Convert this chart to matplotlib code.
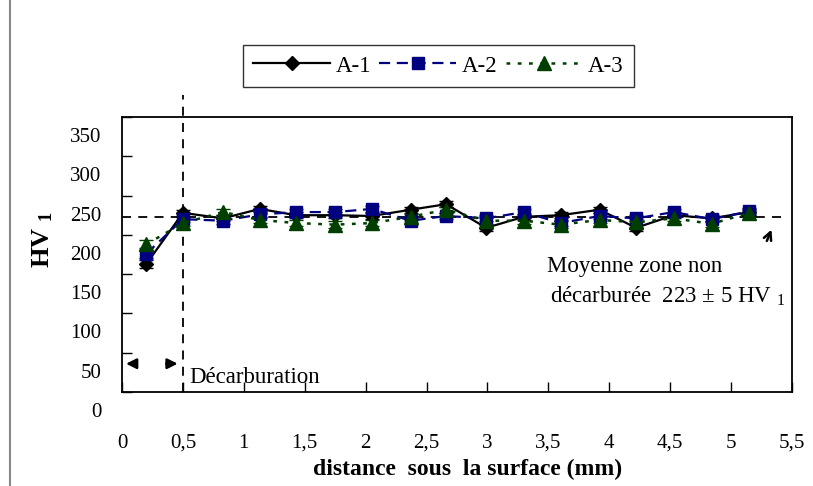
import matplotlib
matplotlib.use("Agg")
import matplotlib.pyplot as plt
from matplotlib.transforms import ScaledTranslation
from matplotlib.lines import Line2D

plt.rcParams['font.family'] = ['Liberation Serif', 'DejaVu Serif']
plt.rcParams['mathtext.fontset'] = 'custom'
plt.rcParams['mathtext.rm'] = 'Liberation Serif'
plt.rcParams['mathtext.bf'] = 'Liberation Serif:bold'

# data
distance = [0.2, 0.5, 0.83, 1.13, 1.43, 1.75, 2.05, 2.37, 2.66, 2.99, 3.30, 3.6, 3.92, 4.22, 4.53, 4.84, 5.15]
a1 = [163, 228, 221, 233, 225, 225, 224, 232, 239, 209, 223, 225, 232, 209, 225, 221, 229]
a2 = [176, 220, 218, 226, 229, 229, 233, 218, 224, 221, 229, 215, 224, 221, 229, 220, 230]
a3 = [188, 215, 229, 219, 215, 213, 215, 223, 232, 218, 218, 213, 219, 216, 221, 214, 228]
err = [5, 4, 4, 4, 4, 4, 4, 4, 4, 4, 4, 4, 4, 4, 4, 4, 4]
mean_value = 223
decarb_depth = 0.5
xticks = [0, 0.5, 1, 1.5, 2, 2.5, 3, 3.5, 4, 4.5, 5, 5.5]
xticklabels = ['0', '0,5', '1', '1,5', '2', '2,5', '3', '3,5', '4', '4,5', '5', '5,5']
yticks = [0, 50, 100, 150, 200, 250, 300, 350]
yticklabels = ['0', '50', '100', '150', '200', '250', '300', '350']

C1, C2, C3 = 'black', '#000080', '#003f00'

fig = plt.figure(figsize=(8.13, 4.86), dpi=100)
ax = fig.add_axes([122/813, 1-392/486, (792-122)/813, (392-117)/486])

ax.errorbar(distance, a1, yerr=err, color=C1, ls='-', lw=1.6, marker='D',
            ms=7, capsize=5, elinewidth=1.2)
ax.errorbar(distance, a2, yerr=err, color=C2, ls=(0, (5, 3)), lw=1.6, marker='s',
            ms=9, capsize=5, elinewidth=1.2)
ax.errorbar(distance, a3, yerr=err, color=C3, ls=(0, (1.5, 3)), lw=1.8, marker='^',
            ms=10, capsize=5, elinewidth=1.2)

ax.plot([0, 5.43], [mean_value, mean_value], color='black', ls=(0, (5, 4)), lw=1.3, clip_on=False)
ax.plot([decarb_depth, decarb_depth], [0, 378], color='black', ls=(0, (5, 4)), lw=1.3, clip_on=False)

ax.annotate('', xy=(0.01, 36), xytext=(0.13, 36),
            arrowprops=dict(arrowstyle='-|>', color='black', lw=1.8, mutation_scale=15))
ax.annotate('', xy=(0.48, 36), xytext=(0.34, 36),
            arrowprops=dict(arrowstyle='-|>', color='black', lw=1.8, mutation_scale=15))
ax.text(0.55, 11, 'Décarburation', fontsize=16.5, va='baseline', ha='left')

ax.annotate('', xy=(5.34, 210), xytext=(5.285, 189),
            arrowprops=dict(arrowstyle='->', color='black', lw=1.8, mutation_scale=14))
ax.text(3.49, 153, 'Moyenne zone non', fontsize=16.5, va='baseline', ha='left')
ax.text(3.51, 115, r'décarburée  223 ± 5 HV $_{1}$', fontsize=16.5, va='baseline', ha='left')

ax.set_xlim(0, 5.5)
ax.set_ylim(0, 350)
ax.set_xticks(xticks)
ax.set_xticklabels(xticklabels, fontsize=15)
ax.set_yticks(yticks)
ax.set_yticklabels(yticklabels, fontsize=15)
ax.tick_params(axis='both', direction='in', length=7, width=1)
ax.tick_params(axis='x', pad=30)
ax.tick_params(axis='y', pad=15)
for lab in ax.get_yticklabels():
    lab.set_transform(lab.get_transform() + ScaledTranslation(0, -0.18, fig.dpi_scale_trans))
for sp in ax.spines.values():
    sp.set_linewidth(1.3)

ax.set_xlabel('distance  sous  la surface (mm)', fontsize=17, fontweight='bold')
ax.xaxis.set_label_coords((467.5-122)/670, (392-459)/275)
ax.set_ylabel(r'HV $\mathbf{_1}$', fontsize=19, fontweight='bold')
ax.yaxis.set_label_coords((55-122)/670, (392-240)/275)

handles = [Line2D([], [], color=C1, ls='-', lw=1.6, marker='D', ms=7),
           Line2D([], [], color=C2, ls=(0, (5, 3)), lw=1.6, marker='s', ms=9),
           Line2D([], [], color=C3, ls=(0, (1.5, 3)), lw=1.8, marker='^', ms=10)]
leg = fig.legend(handles=handles, labels=['A-1', 'A-2', 'A-3'], loc='center',
                 bbox_to_anchor=(438.5/813, 1-66/486), ncol=3, fontsize=16.5,
                 handlelength=3.35, handletextpad=0.25, columnspacing=0.35,
                 frameon=True, fancybox=False, edgecolor='black', borderpad=0.45)
leg.get_frame().set_linewidth(1.0)

fig.add_artist(Line2D([10/813, 10/813], [0, 1], transform=fig.transFigure, color='#888888', lw=1.5))

fig.savefig('out.png', dpi=100)
